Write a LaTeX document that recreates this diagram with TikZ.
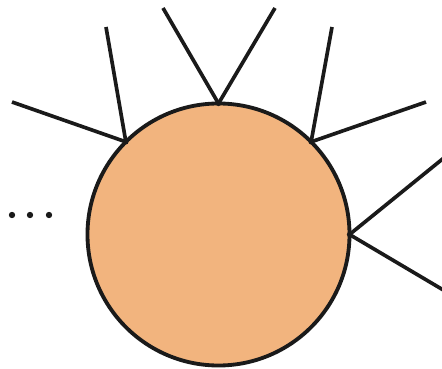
\documentclass[tikz,border=0pt]{standalone}
\usepackage{tikz}
\usetikzlibrary{positioning}
\definecolor{blobfill}{RGB}{242,180,126}
\definecolor{ink}{RGB}{26,26,26}

\begin{document}
\begin{tikzpicture}[
  x=0.03cm, y=-0.03cm,
  blob/.style={circle, draw=ink, line width=0.115cm, fill=blobfill,
               minimum size=7.86cm, inner sep=0pt, outer sep=0pt},
  leg/.style={draw=ink, line width=0.11cm},
  joint/.style={fill=ink}
]
  \useasboundingbox (0,0) rectangle (442,369);

  \node[blob] (vert) at (218.5,234.5) {};

  % free ends of the legs
  \coordinate (ul1) at (12,102);
  \coordinate (ul2) at (106,27);
  \coordinate (t1)  at (163,8);
  \coordinate (t2)  at (275,8);
  \coordinate (ur1) at (332,27);
  \coordinate (ur2) at (426,102);
  \coordinate (r1)  at (445,157);
  \coordinate (r2)  at (445,291);

  \draw[leg] (vert.135) -- (ul1);
  \draw[leg] (vert.135) -- (ul2);
  \draw[leg] (vert.90)  -- (t1);
  \draw[leg] (vert.90)  -- (t2);
  \draw[leg] (vert.45)  -- (ur1);
  \draw[leg] (vert.45)  -- (ur2);
  \draw[leg] (vert.0)   -- (r1);
  \draw[leg] (vert.0)   -- (r2);

  \foreach \a in {135,90,45,0}
    \fill[joint] (vert.\a) circle (0.08cm);

  % dots on the left
  \foreach \x in {12,30,49}
    \fill[joint] (\x,215) circle (0.095cm);
\end{tikzpicture}
\end{document}
